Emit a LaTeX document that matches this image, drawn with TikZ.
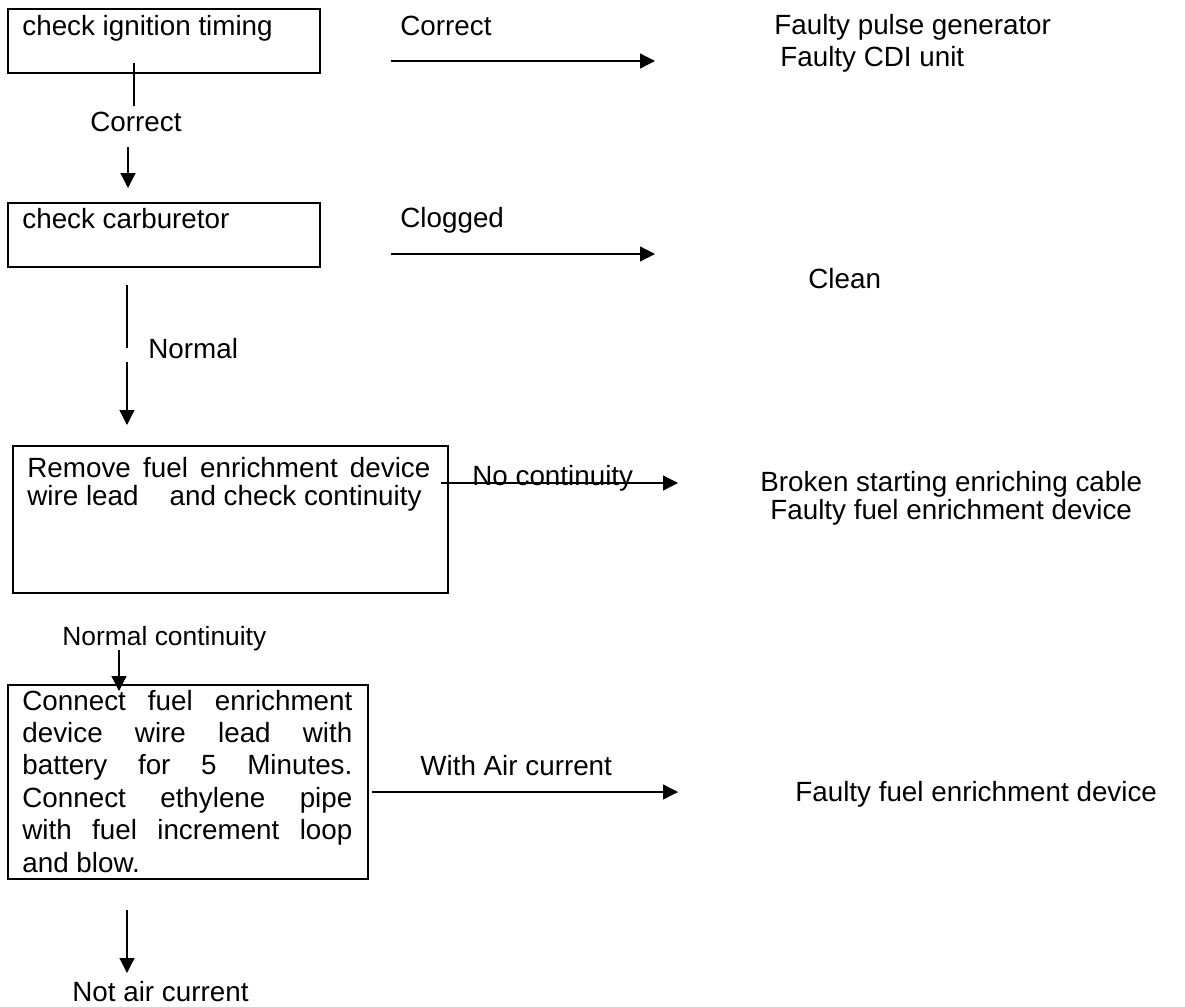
\documentclass[tikz,border=0pt]{standalone}
\usepackage{fontspec}
\setmainfont{Liberation Sans}
\usetikzlibrary{arrows.meta}
\begin{document}
\begin{tikzpicture}[x=0.5pt,y=-0.5pt,
  box/.style={draw, line width=1.15pt, inner sep=0pt, anchor=north west},
  lbl/.style={anchor=base west, inner sep=0pt, font=\fontsize{13.9pt}{16.2pt}\selectfont},
  small/.style={anchor=base west, inner sep=0pt, font=\fontsize{13.2pt}{16pt}\selectfont},
  arr/.style={line width=0.65pt, -{Triangle[length=7.5pt,width=7.5pt]}},
  ln/.style={line width=0.65pt},
  thickln/.style={line width=1pt}]
\useasboundingbox (0,0) rectangle (1185,1007);

% boxes
\node[box, minimum width=156pt, minimum height=32pt] (box1) at (7,8) {};
\node[box, minimum width=156pt, minimum height=32pt] (box2) at (7,202) {};
\node[box, minimum width=217.5pt, minimum height=73.5pt] (box3) at (12,445) {};
\node[box, minimum width=180pt, minimum height=97pt] (box4) at (7,684) {};

% box texts
\node[lbl] (t1) at (22,35) {check ignition timing};
\node[lbl] (t2) at (22,228) {check carburetor};
\node[lbl] (t3) at (27,477) {\vtop{\baselineskip=14pt
  \hbox to 201.5pt{Remove\hfill fuel\hfill enrichment\hfill device}
  \hbox{wire lead\hspace{15.5pt}and check continuity}}};
\node[lbl] (t4) at (22,710) {\vtop{\baselineskip=16.2pt
  \hbox to 165pt{Connect\hfill fuel\hfill enrichment}
  \hbox to 165pt{device\hfill wire\hfill lead\hfill with}
  \hbox to 165pt{battery\hfill for\hfill 5\hfill Minutes.}
  \hbox to 165pt{Connect\hfill ethylene\hfill pipe}
  \hbox to 165pt{with\hfill fuel\hfill increment\hfill loop}
  \hbox{and blow.}}};

% labels
\node[lbl] (lc1) at (90,131) {Correct};
\node[lbl] (ln1) at (148,358) {Normal};
\node[small] (lnc) at (62,645) {Normal continuity};
\node[lbl] (lna) at (72,1001) {Not air current};
\node[lbl] (lc2) at (400,35) {Correct};
\node[lbl] (lcl) at (400,227) {Clogged};
\node[lbl] (lno) at (472,485) {No continuity};
\node[lbl] (lwa) at (420,775) {With Air current};

% results
\node[lbl] (r1a) at (774,34) {Faulty pulse generator};
\node[lbl] (r1b) at (780,66) {Faulty CDI unit};
\node[lbl] (r2) at (808,288) {Clean};
\node[lbl] (r3a) at (760,491) {Broken starting enriching cable};
\node[lbl] (r3b) at (770,519) {Faulty fuel enrichment device};
\node[lbl] (r4) at (795,801) {Faulty fuel enrichment device};

% connector coordinates
\coordinate (v1a) at (134,63);  \coordinate (v1b) at (134,106);
\coordinate (v2a) at (128,147); \coordinate (v2b) at (128,188);
\coordinate (v3a) at (127,285); \coordinate (v3b) at (127,348);
\coordinate (v4a) at (127,362); \coordinate (v4b) at (127,425);
\coordinate (v5a) at (119,650); \coordinate (v5b) at (119,691);
\coordinate (v6a) at (127,910); \coordinate (v6b) at (127,973);
\coordinate (h1a) at (391,61);  \coordinate (h1b) at (655,61);
\coordinate (h2a) at (391,254); \coordinate (h2b) at (655,254);
\coordinate (h3a) at (441,483); \coordinate (h3b) at (678,483);
\coordinate (h4a) at (372,792); \coordinate (h4b) at (678,792);

\draw[ln] (v1a) -- (v1b);
\draw[arr] (v2a) -- (v2b);
\draw[thickln] (v3a) -- (v3b);
\draw[arr] (v4a) -- (v4b);
\draw[arr] (v5a) -- (v5b);
\draw[arr] (v6a) -- (v6b);
\draw[arr] (h1a) -- (h1b);
\draw[arr] (h2a) -- (h2b);
\draw[arr] (h3a) -- (h3b);
\draw[arr] (h4a) -- (h4b);
\end{tikzpicture}
\end{document}
